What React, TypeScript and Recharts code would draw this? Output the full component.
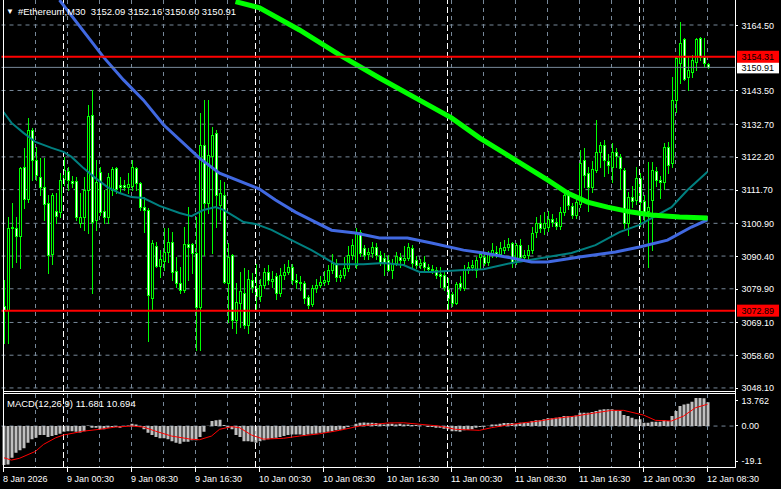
import React from "react";
import { ComposedChart, Bar, Line, XAxis, YAxis, CartesianGrid, ReferenceLine } from "recharts";

const FONT = '"Liberation Sans", Arial, sans-serif';

// M30 candles, bar 0 = 8 Jan 16:30 ... bar 176 = 12 Jan 08:30
const opens = [
  3074.5, 3073.1, 3099.6, 3099.3, 3096.9, 3118.9, 3108.6, 3130.8, 3121.2, 3115.9,
  3112.4, 3107.3, 3091.2, 3104.8, 3104.6, 3115.0, 3117.8, 3114.6, 3114.6, 3101.1,
  3102.8, 3111.6, 3135.6, 3102.0, 3117.5, 3104.8, 3103.0, 3111.6, 3118.5, 3113.2,
  3113.3, 3112.7, 3112.9, 3118.5, 3113.7, 3106.2, 3105.2, 3076.8, 3093.6, 3087.2,
  3088.9, 3091.8, 3095.0, 3085.7, 3081.7, 3079.5, 3094.3, 3094.3, 3091.3, 3074.2,
  3126.0, 3107.3, 3122.5, 3129.8, 3106.8, 3110.0, 3081.6, 3090.7, 3069.9, 3075.4,
  3078.4, 3068.3, 3082.7, 3080.3, 3077.6, 3081.1, 3085.4, 3082.5, 3084.0, 3078.4,
  3084.3, 3085.4, 3087.0, 3082.7, 3082.2, 3081.6, 3077.4, 3075.0, 3080.0, 3081.1,
  3082.2, 3082.5, 3085.9, 3088.1, 3083.8, 3084.3, 3086.5, 3090.7, 3087.6, 3098.2,
  3092.9, 3091.0, 3091.3, 3093.4, 3090.7, 3089.7, 3089.1, 3086.0, 3088.3, 3090.0,
  3089.2, 3089.8, 3092.9, 3089.1, 3087.6, 3088.6, 3086.8, 3086.4, 3085.9, 3084.6,
  3084.3, 3079.7, 3078.2, 3075.5, 3081.6, 3080.0, 3085.9, 3087.0, 3085.9, 3090.2,
  3090.0, 3088.5, 3091.0, 3091.8, 3091.2, 3092.3, 3093.4, 3094.5, 3088.6, 3093.8,
  3090.2, 3090.7, 3092.3, 3098.0, 3101.1, 3099.3, 3099.8, 3102.4, 3101.3, 3100.0,
  3104.6, 3110.0, 3106.5, 3103.6, 3107.0, 3121.2, 3117.1, 3112.6, 3118.0, 3123.9,
  3126.0, 3120.9, 3119.1, 3123.9, 3122.1, 3118.0, 3100.9, 3109.2, 3108.4, 3115.3,
  3108.0, 3104.8, 3108.4, 3117.8, 3114.8, 3114.2, 3125.5, 3120.1, 3140.4, 3152.2,
  3159.9, 3147.9, 3149.5, 3152.7, 3160.2, 3154.3, 3152.09,
];
const highs = [
  3082.7, 3103.0, 3107.3, 3103.0, 3118.9, 3125.0, 3134.6, 3131.4, 3125.5, 3121.7,
  3121.7, 3110.0, 3110.5, 3110.5, 3117.0, 3122.3, 3119.1, 3116.0, 3115.9, 3110.5,
  3115.9, 3138.8, 3143.6, 3121.2, 3119.1, 3111.6, 3117.0, 3119.1, 3119.1, 3115.9,
  3114.8, 3117.0, 3121.2, 3118.9, 3114.0, 3109.4, 3105.7, 3095.5, 3095.0, 3092.3,
  3099.3, 3099.3, 3098.2, 3090.2, 3087.0, 3099.8, 3106.2, 3094.5, 3103.0, 3136.2,
  3140.4, 3140.4, 3131.9, 3130.8, 3114.8, 3114.3, 3094.5, 3090.9, 3081.6, 3085.4,
  3086.5, 3086.0, 3085.0, 3088.0, 3083.0, 3086.5, 3087.5, 3085.5, 3085.0, 3086.5,
  3088.0, 3089.0, 3088.0, 3084.5, 3084.0, 3082.5, 3078.0, 3081.0, 3083.0, 3084.0,
  3085.5, 3087.5, 3091.0, 3089.5, 3086.0, 3090.0, 3093.5, 3096.0, 3099.5, 3098.8,
  3094.0, 3093.0, 3095.0, 3094.5, 3092.0, 3091.5, 3090.7, 3089.5, 3091.8, 3091.5,
  3093.5, 3094.5, 3093.8, 3090.5, 3089.5, 3090.5, 3088.0, 3087.5, 3087.0, 3087.0,
  3085.5, 3083.5, 3079.0, 3082.0, 3084.0, 3087.5, 3088.5, 3089.0, 3090.2, 3092.0,
  3091.0, 3092.0, 3094.5, 3093.5, 3095.0, 3095.5, 3096.1, 3095.0, 3094.5, 3096.0,
  3092.5, 3094.0, 3099.8, 3103.0, 3103.5, 3104.5, 3105.0, 3104.0, 3102.5, 3106.0,
  3111.5, 3111.5, 3107.5, 3109.0, 3124.5, 3124.9, 3119.0, 3121.0, 3134.0, 3127.1,
  3127.6, 3123.0, 3126.5, 3125.0, 3123.0, 3118.5, 3111.0, 3113.0, 3119.0, 3117.0,
  3110.0, 3120.7, 3120.7, 3119.0, 3116.0, 3126.5, 3127.0, 3147.9, 3154.5, 3165.6,
  3160.2, 3154.3, 3154.9, 3160.2, 3160.8, 3160.2, 3152.16,
];
const lows = [
  3062.5, 3062.4, 3087.0, 3088.6, 3086.5, 3105.7, 3107.8, 3114.8, 3114.8, 3110.0,
  3102.0, 3084.9, 3088.0, 3100.9, 3103.0, 3113.2, 3111.6, 3112.5, 3102.0, 3099.8,
  3098.8, 3097.7, 3078.4, 3098.8, 3103.6, 3100.9, 3100.9, 3110.0, 3110.5, 3111.0,
  3111.6, 3110.6, 3111.6, 3111.6, 3105.2, 3098.2, 3063.0, 3073.1, 3087.0, 3083.8,
  3086.0, 3088.6, 3082.7, 3080.6, 3078.4, 3079.0, 3082.7, 3084.9, 3060.3, 3060.3,
  3090.7, 3104.1, 3091.3, 3099.8, 3102.0, 3081.6, 3069.4, 3067.2, 3065.6, 3067.7,
  3067.2, 3065.6, 3079.0, 3073.5, 3076.0, 3080.0, 3081.5, 3080.5, 3076.5, 3077.5,
  3083.0, 3084.5, 3081.5, 3080.0, 3079.5, 3075.5, 3073.8, 3074.5, 3079.0, 3080.5,
  3081.0, 3081.5, 3085.0, 3082.5, 3082.5, 3083.5, 3085.5, 3089.5, 3086.5, 3090.5,
  3089.5, 3089.5, 3090.0, 3089.5, 3087.5, 3084.3, 3085.5, 3083.5, 3087.5, 3087.0,
  3087.5, 3089.0, 3087.0, 3086.5, 3086.5, 3086.0, 3085.5, 3085.0, 3083.5, 3080.5,
  3079.5, 3073.1, 3074.5, 3075.0, 3079.5, 3079.5, 3085.0, 3086.0, 3083.8, 3086.5,
  3087.5, 3087.5, 3090.0, 3090.0, 3090.5, 3091.5, 3092.5, 3087.0, 3088.0, 3089.0,
  3089.0, 3089.5, 3091.5, 3096.5, 3098.0, 3097.5, 3098.5, 3100.0, 3099.0, 3099.0,
  3103.5, 3105.5, 3102.5, 3102.5, 3106.0, 3112.6, 3105.0, 3111.0, 3117.5, 3119.0,
  3116.0, 3117.0, 3114.0, 3119.0, 3112.0, 3099.5, 3097.0, 3106.0, 3107.0, 3100.0,
  3102.0, 3087.0, 3092.3, 3113.0, 3109.0, 3112.0, 3117.0, 3119.0, 3136.7, 3145.8,
  3146.9, 3143.7, 3147.9, 3150.1, 3153.3, 3151.5, 3150.6,
];
const closes = [
  3073.1, 3099.3, 3099.3, 3096.9, 3118.5, 3108.6, 3130.8, 3121.2, 3116.4, 3112.7,
  3107.1, 3090.7, 3110.0, 3103.2, 3114.8, 3118.0, 3114.8, 3113.8, 3102.8, 3102.8,
  3111.6, 3135.3, 3101.4, 3114.0, 3104.6, 3102.8, 3115.9, 3118.2, 3111.8, 3112.7,
  3112.7, 3113.4, 3118.9, 3113.7, 3106.0, 3105.2, 3077.9, 3094.5, 3087.2, 3089.3,
  3091.8, 3095.0, 3085.4, 3081.7, 3079.5, 3094.3, 3093.4, 3091.3, 3074.2, 3126.0,
  3107.3, 3122.8, 3129.2, 3110.0, 3110.5, 3082.2, 3090.2, 3069.9, 3075.8, 3079.3,
  3068.3, 3083.0, 3080.6, 3077.6, 3081.1, 3085.4, 3082.7, 3083.2, 3078.4, 3084.3,
  3085.4, 3087.0, 3082.7, 3082.2, 3081.6, 3076.8, 3074.8, 3080.0, 3081.1, 3082.2,
  3082.8, 3085.9, 3088.1, 3083.8, 3084.3, 3086.5, 3090.7, 3093.9, 3098.2, 3091.3,
  3090.7, 3091.6, 3093.4, 3090.7, 3088.6, 3088.1, 3085.9, 3088.3, 3090.4, 3089.1,
  3089.8, 3093.2, 3088.1, 3087.5, 3088.1, 3087.0, 3086.4, 3085.9, 3084.3, 3084.0,
  3080.6, 3076.8, 3075.5, 3081.4, 3080.4, 3085.9, 3087.0, 3087.6, 3089.1, 3090.9,
  3088.3, 3091.0, 3092.2, 3091.2, 3092.9, 3093.4, 3094.2, 3088.6, 3093.8, 3090.0,
  3090.7, 3092.3, 3097.9, 3101.1, 3099.3, 3100.9, 3102.4, 3101.3, 3100.0, 3104.6,
  3110.0, 3106.8, 3103.6, 3107.8, 3120.3, 3116.4, 3112.6, 3118.2, 3123.9, 3126.0,
  3121.2, 3119.5, 3123.9, 3122.4, 3118.5, 3100.9, 3109.4, 3108.2, 3115.3, 3107.8,
  3104.6, 3106.2, 3118.0, 3114.8, 3114.0, 3125.3, 3119.6, 3140.4, 3153.8, 3158.6,
  3147.1, 3150.1, 3153.3, 3159.9, 3154.3, 3152.2, 3150.91,
];

// moving averages, read at [bar, price]
const maTeal: [number, number][] = [
  [0, 3136.6], [2, 3133.1], [5, 3129.9], [8, 3127.0], [12, 3125.1], [15, 3123.8], [17, 3122.2],
  [20, 3118.6], [23, 3115.4], [26, 3112.5], [29, 3110.6], [32, 3109.3], [35, 3109.0], [39, 3106.5],
  [44, 3104.2], [47, 3103.2], [50, 3105.2], [53, 3106.1], [55, 3105.2], [58, 3102.9], [60, 3101.3],
  [63, 3100.7], [67, 3098.8], [72, 3095.5], [77, 3092.3], [83, 3087.8], [90, 3087.8], [95, 3088.2],
  [100, 3087.5], [104, 3085.3], [107, 3085.3], [115, 3085.9], [120, 3086.2], [127, 3088.2],
  [136, 3090.1], [142, 3091.4], [148, 3093.9], [154, 3098.1], [159, 3100.4], [167, 3106.1],
  [171, 3111.6], [176, 3117.4],
];
const maBlue: [number, number][] = [
  [14, 3172.5], [25, 3154.2], [30, 3146.9], [35, 3140.4], [40, 3132.5], [49, 3121.8], [54, 3117.0],
  [64, 3111.9], [68, 3108.4], [73, 3104.5], [82, 3098.7], [88, 3097.8], [94, 3096.2], [101, 3096.2],
  [107, 3094.6], [115, 3092.3], [120, 3091.4], [127, 3089.8], [132, 3088.5], [136, 3088.5],
  [144, 3090.1], [153, 3091.7], [159, 3093.3], [166, 3095.5], [172, 3099.7], [176, 3102.0],
];
const maLime: [number, number][] = [
  [58, 3172.0], [64, 3170.0], [74, 3162.9], [84, 3154.9], [94, 3147.5], [104, 3140.4],
  [112, 3134.7], [119, 3128.3], [128, 3121.2], [136, 3114.8], [141, 3110.6], [146, 3107.7],
  [151, 3106.1], [157, 3104.5], [162, 3103.6], [169, 3102.9], [176, 3102.6],
];

// MACD(12,26,9) main histogram and signal
const macdMain = [
  -19.1, -18.8, -15.5, -13.1, -11.9, -10.9, -8.2, -6.5, -5.7, -4.4,
  -4.4, -5.4, -4.9, -4.4, -3.8, -2.8, -2.5, -2.5, -2.8, -3.1,
  -2.5, 0.3, -0.8, -0.8, -1.6, -1.6, -0.8, -0.5, -0.5, -0.8,
  -0.5, 0.3, 1.1, 0.8, -0.5, -1.6, -3.3, -4.4, -5.4, -6.0,
  -6.0, -6.5, -7.4, -8.2, -8.7, -7.7, -7.7, -7.0, -7.0, -5.4,
  -2.8, 0.1, 2.5, 2.8, 3.1, 0.5, -0.8, -1.6, -4.4, -5.4,
  -7.4, -7.4, -7.7, -8.2, -7.4, -7.0, -6.5, -6.0, -5.7, -5.4,
  -4.9, -4.4, -4.1, -4.1, -4.1, -4.4, -4.1, -3.8, -3.8, -3.3,
  -3.3, -2.8, -2.5, -2.1, -1.8, -1.3, -0.5, 0.1, 1.1, 1.6,
  1.8, 1.6, 1.6, 1.5, 1.1, 0.8, 1.1, 1.1, 0.8, 1.1,
  0.8, 0.8, 0.5, 0.5, 0.3, 0.1, -0.5, -0.5, -0.8, -0.8,
  -1.3, -1.6, -2.5, -2.5, -2.8, -2.1, -1.8, -1.6, -0.8, -0.5,
  -0.3, 0.1, 0.8, 0.8, 1.1, 1.5, 1.5, 1.5, 1.1, 1.6,
  1.6, 1.6, 2.5, 2.9, 2.9, 3.3, 3.8, 3.8, 4.1, 4.4,
  4.9, 4.9, 4.9, 5.2, 6.5, 6.5, 6.5, 6.9, 7.4, 8.0,
  8.2, 8.2, 8.2, 7.7, 7.4, 5.4, 4.9, 4.1, 3.3, 3.3,
  1.6, 1.6, 2.1, 2.1, 2.1, 2.8, 2.5, 4.9, 7.4, 9.8,
  10.6, 10.9, 11.9, 13.762, 13.762, 13.6, 11.681,
];
const macdSignal: [number, number][] = [
  [0, -15.5], [2, -16.7], [4, -15.8], [8, -12.4], [10, -9.0], [13, -5.8], [15, -4.4], [20, -2.5],
  [24, -1.6], [28, -0.5], [32, 0], [35, -0.5], [38, -2.5], [42, -4.9], [47, -6.5], [49, -6.7],
  [52, -4.9], [54, -1.6], [57, -0.3], [59, -0.8], [62, -4.4], [65, -6.4], [70, -6.0], [74, -4.9],
  [79, -3.8], [84, -2.1], [89, 0], [96, 1.5], [100, 1.6], [109, 0], [113, -1.6], [119, -2.1],
  [122, -0.8], [126, 0.5], [130, 1.6], [134, 2.5], [138, 3.8], [143, 4.9], [148, 6.5], [152, 7.7],
  [155, 7.7], [160, 5.4], [163, 2.8], [167, 2.5], [170, 4.9], [173, 9.0], [176, 10.694],
];

const priceTicks = [3164.5, 3143.5, 3132.7, 3122.2, 3111.7, 3100.9, 3090.4, 3079.9, 3069.1, 3058.6, 3048.1];
const macdTicks = [13.762, 0, -19.1];
const macdTickText = ["13.762", "0.00", "-19.1"];
const timeLabels: [number, string][] = [
  [0, "8 Jan 2026"], [16, "9 Jan 00:30"], [32, "9 Jan 08:30"], [48, "9 Jan 16:30"],
  [64, "10 Jan 00:30"], [80, "10 Jan 08:30"], [96, "10 Jan 16:30"], [112, "11 Jan 00:30"],
  [128, "11 Jan 08:30"], [144, "11 Jan 16:30"], [160, "12 Jan 00:30"], [176, "12 Jan 08:30"],
];
const dayBreaks = [15, 63, 111, 159];
const redLevels = [3154.31, 3072.89];
const bidPrice = 3150.91;

const SHIFT = 6; // empty bars on the right (chart shift)
const N = opens.length;
const gridBars = Array.from({ length: 23 }, (_, k) => k * 8);

const teal = new Map(maTeal);
const blue = new Map(maBlue);
const lime = new Map(maLime);
const sig = new Map(macdSignal);
const timeLabelAt = new Map(timeLabels);

const rows = Array.from({ length: N + SHIFT }, (_, i) =>
  i < N
    ? {
        i,
        o: opens[i], h: highs[i], l: lows[i], c: closes[i],
        range: [lows[i], highs[i]],
        teal: teal.get(i) ?? null,
        blue: blue.get(i) ?? null,
        lime: lime.get(i) ?? null,
        hist: macdMain[i],
        signal: sig.get(i) ?? null,
      }
    : { i }
);

const Candle = (props: any) => {
  const { x, y, width, height } = props;
  const d = props.payload ?? props;
  if (d == null || d.o == null || x == null) return null;
  const top = Math.min(y, y + height);
  const bot = Math.max(y, y + height);
  const span = d.h - d.l;
  const k = span > 0 ? (bot - top) / span : 0;
  const py = (v: number) => top + (d.h - v) * k;
  const cx = Math.floor(x + width / 2);
  const bTop = Math.round(py(Math.max(d.o, d.c)));
  const bBot = Math.max(bTop + 1, Math.round(py(Math.min(d.o, d.c))) + 1);
  const wTop = Math.round(py(d.h));
  const wBot = Math.round(py(d.l)) + 1;
  const bear = d.c < d.o;
  return (
    <g shapeRendering="crispEdges">
      <rect x={cx} y={wTop} width={1} height={Math.max(1, wBot - wTop)} fill="#00ff00" />
      <rect x={cx - 1} y={bTop} width={3} height={bBot - bTop} fill="#00ff00" />
      {bBot - bTop > 2 && (
        <rect x={cx} y={bTop + 1} width={1} height={bBot - bTop - 2} fill={bear ? "#ffffff" : "#000000"} />
      )}
    </g>
  );
};

const PriceTick = (p: any) => {
  const yy = Math.round(p.y) + 0.5;
  return (
    <g>
      <line x1={p.x} x2={p.x + 3} y1={yy} y2={yy} stroke="#fff" />
      <text x={p.x + 6.5} y={p.y + 3.5} fill="#fff" fontSize={9} fontFamily={FONT}>
        {Number(p.payload.value).toFixed(2)}
      </text>
    </g>
  );
};

const MacdTick = (p: any) => {
  const idx = macdTicks.indexOf(p.payload.value);
  const dy = idx === 0 ? 2 : idx === 2 ? -4 : -1;
  const yy = Math.round(p.y + dy) + 0.5;
  return (
    <g>
      <line x1={p.x} x2={p.x + 3} y1={yy} y2={yy} stroke="#fff" />
      <text x={p.x + 6.5} y={p.y + dy + 3.5} fill="#fff" fontSize={9} fontFamily={FONT}>
        {macdTickText[idx]}
      </text>
    </g>
  );
};

const TimeTick = (p: any) => {
  const label = timeLabelAt.get(p.payload.value);
  if (!label) return null;
  const x = Math.floor(p.x) + 0.5;
  return (
    <g>
      <line x1={x} x2={x} y1={p.y} y2={p.y + 5} stroke="#fff" />
      <text x={x - 0.5} y={p.y + 14.5} fill="#fff" fontSize={9} fontFamily={FONT}>
        {label}
      </text>
    </g>
  );
};

const PriceTag = (props: any) => {
  const vb = props.viewBox || {};
  const x = vb.x + vb.width + 2;
  const y = vb.y;
  return (
    <g>
      <rect x={x} y={y - 6} width={42} height={12} fill={props.bg} />
      <text x={x + 4.5} y={y + 3.5} fill="#000" fontSize={9} fontFamily={FONT}>
        {props.text}
      </text>
    </g>
  );
};

export default function App() {
  return (
    <div style={{ position: "absolute", left: 0, top: 0, width: 781, height: 489, background: "#000", overflow: "hidden" }}>
      <div style={{ position: "absolute", left: 0, top: 0 }}>
        <ComposedChart width={781} height={394} data={rows} margin={{ top: 0, right: 0, bottom: 3, left: 1.5 }}>
          <XAxis dataKey="i" type="category" hide ticks={gridBars} interval={0} padding={{ left: 0, right: 1.5 }} />
          <YAxis
            orientation="right"
            width={46}
            domain={[3047.12, 3172.52]}
            allowDataOverflow
            ticks={priceTicks}
            interval={0}
            axisLine={false}
            tickLine={false}
            tickSize={0}
            tickMargin={0}
            tick={PriceTick}
          />
          <CartesianGrid
            stroke="#778899"
            strokeDasharray="4 4"
            horizontalValues={priceTicks}
            verticalValues={gridBars}
          />
          {dayBreaks.map((b) => (
            <ReferenceLine key={b} x={b} stroke="#ffffff" strokeDasharray="6 3" />
          ))}
          <Bar dataKey="range" barSize={3} shape={<Candle />} isAnimationActive={false} />
          <Line dataKey="teal" stroke="#008080" strokeWidth={2} dot={false} connectNulls type="linear" isAnimationActive={false} />
          <Line dataKey="blue" stroke="#4169e1" strokeWidth={3} dot={false} connectNulls type="linear" isAnimationActive={false} />
          <Line dataKey="lime" stroke="#00ff00" strokeWidth={5} dot={false} connectNulls type="linear" isAnimationActive={false} />
          <ReferenceLine y={bidPrice} stroke="#778899" label={<PriceTag bg="#ffffff" text={bidPrice.toFixed(2)} />} />
          {redLevels.map((v) => (
            <ReferenceLine key={v} y={v} stroke="#ff0000" strokeWidth={2} label={<PriceTag bg="#ff0000" text={v.toFixed(2)} />} />
          ))}
        </ComposedChart>
      </div>
      <div style={{ position: "absolute", left: 0, top: 392 }}>
        <ComposedChart width={781} height={97} data={rows} margin={{ top: 2, right: 0, bottom: 0, left: 1.5 }}>
          <XAxis
            dataKey="i"
            type="category"
            height={22}
            ticks={gridBars}
            interval={0}
            padding={{ left: 0, right: 1.5 }}
            axisLine={false}
            tickLine={false}
            tickSize={0}
            tickMargin={0}
            tick={TimeTick}
          />
          <YAxis
            orientation="right"
            width={46}
            domain={[-20.081, 15.724]}
            allowDataOverflow
            ticks={macdTicks}
            interval={0}
            axisLine={false}
            tickLine={false}
            tickSize={0}
            tickMargin={0}
            tick={MacdTick}
          />
          <CartesianGrid stroke="#778899" strokeDasharray="4 4" horizontalValues={[0]} verticalValues={gridBars} />
          {dayBreaks.map((b) => (
            <ReferenceLine key={b} x={b} stroke="#ffffff" strokeDasharray="6 3" />
          ))}
          <Bar dataKey="hist" barSize={3} fill="#c0c0c0" isAnimationActive={false} />
          <Line dataKey="signal" stroke="#ff0000" strokeWidth={1} dot={false} connectNulls type="linear" isAnimationActive={false} />
        </ComposedChart>
      </div>
      <svg width={781} height={489} style={{ position: "absolute", left: 0, top: 0, pointerEvents: "none" }}>
        <line x1={3.5} x2={3.5} y1={0} y2={467} stroke="#fff" />
        <line x1={735.5} x2={735.5} y1={0} y2={468} stroke="#fff" />
        <line x1={3} x2={736} y1={391.5} y2={391.5} stroke="#fff" />
        <line x1={3} x2={736} y1={393.5} y2={393.5} stroke="#fff" />
        <line x1={3} x2={736} y1={467.5} y2={467.5} stroke="#fff" />
        <text x={6} y={14} fill="#fff" fontSize={8} fontFamily={FONT}>▼</text>
        <text x={18} y={14.5} fill="#fff" fontSize={9.5} fontFamily={FONT} style={{ whiteSpace: "pre" }}>
          {"#Ethereum,M30  3152.09 3152.16 3150.60 3150.91"}
        </text>
        <text x={7} y={406.5} fill="#fff" fontSize={9.5} fontFamily={FONT}>
          MACD(12,26,9) 11.681 10.694
        </text>
      </svg>
    </div>
  );
}
